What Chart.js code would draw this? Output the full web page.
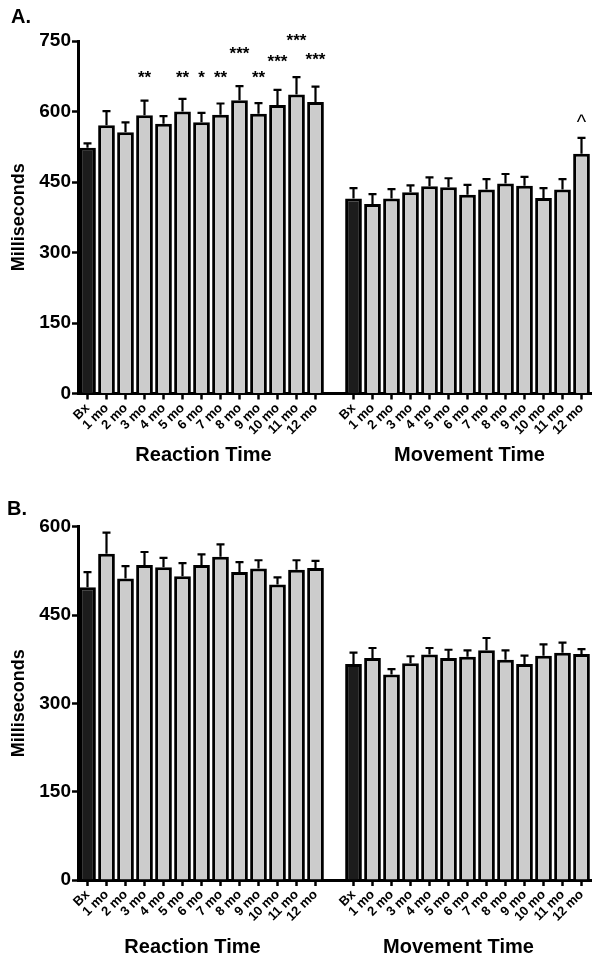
<!DOCTYPE html>
<html>
<head>
<meta charset="utf-8">
<script src="https://cdn.jsdelivr.net/npm/chart.js@4.4.0/dist/chart.umd.min.js"></script>
<style>
  html, body { margin: 0; padding: 0; background: #fff; }
  .panel { position: relative; width: 601px; height: 482px; }
  .panel canvas { display: block; }
  .letter {
    position: absolute;
    font: bold 20px 'Liberation Sans', Arial, sans-serif;
    line-height: 20px;
    color: #000;
  }
</style>
</head>
<body>
<div class="panel">
  <div class="letter" style="left:11px; top:6px;">A.</div>
  <canvas id="chartA" width="601" height="482"></canvas>
</div>
<div class="panel">
  <div class="letter" style="left:7px; top:16px;">B.</div>
  <canvas id="chartB" width="601" height="482"></canvas>
</div>
<script>
// categories
const timepoints = ['Bx', '1 mo', '2 mo', '3 mo', '4 mo', '5 mo', '6 mo', '7 mo', '8 mo', '9 mo', '10 mo', '11 mo', '12 mo'];
const groupNames = ['Reaction Time', 'Movement Time'];

// y tick labels
const yTicksA = [0, 150, 300, 450, 600, 750];
const yTicksB = [0, 150, 300, 450, 600];

// Panel A - means and SEM (ms)
const rtMeanA = [523, 571, 556, 592, 574, 600, 577, 593, 624, 595, 614, 636, 620];
const rtSemA  = [9, 30, 21, 31, 16, 27, 20, 24, 30, 23, 32, 37, 33];
const mtMeanA = [415, 403, 415, 428, 441, 439, 423, 434, 447, 442, 416, 434, 510];
const mtSemA  = [22, 21, 20, 15, 19, 19, 21, 22, 20, 19, 21, 22, 34];

// Panel A - significance marks and the value level they sit at
const rtMarksA     = ['', '', '', '**', '', '**', '*', '**', '***', '**', '***', '***', '***'];
const rtMarkLevelA = [null, null, null, 678, null, 678, 678, 678, 729, 678, 712, 757, 718];
const mtMarksA     = ['', '', '', '', '', '', '', '', '', '', '', '', '^'];
const mtMarkLevelA = [null, null, null, null, null, null, null, null, null, null, null, null, 586];

// Panel B - means and SEM (ms)
const rtMeanB = [497, 554, 512, 535, 531, 516, 535, 549, 523, 529, 502, 527, 530];
const rtSemB  = [26, 36, 21, 22, 16, 22, 18, 21, 17, 14, 12, 16, 12];
const mtMeanB = [367, 377, 349, 368, 383, 377, 379, 390, 374, 367, 381, 386, 384];
const mtSemB  = [19, 17, 9, 12, 11, 14, 11, 21, 16, 14, 19, 17, 8];

const FONT = "'Liberation Sans', Arial, Helvetica, sans-serif";
Chart.defaults.font.family = FONT;
Chart.defaults.color = '#000';

// error bars, star marks and group titles
const panelExtras = {
  id: 'panelExtras',
  afterDatasetsDraw(chart, args, opts) {
    const { ctx } = chart;
    const x = chart.scales.x;
    const y = chart.scales.y;
    const meta = chart.getDatasetMeta(0);
    const values = chart.data.datasets[0].data;

    ctx.save();
    ctx.strokeStyle = '#000';
    ctx.lineWidth = 2.2;
    meta.data.forEach((bar, i) => {
      const sem = opts.sem[i];
      if (values[i] == null || sem == null) return;
      const top = y.getPixelForValue(values[i] + sem);
      ctx.beginPath();
      ctx.moveTo(bar.x, bar.y);
      ctx.lineTo(bar.x, top);
      ctx.moveTo(bar.x - 4, top);
      ctx.lineTo(bar.x + 4, top);
      ctx.stroke();
    });

    // marks, centred on their value level
    ctx.fillStyle = '#000';
    ctx.textAlign = 'center';
    ctx.textBaseline = 'alphabetic';
    opts.marks.forEach((m, i) => {
      if (!m) return;
      ctx.font = m === '^' ? '20px ' + FONT : 'bold 17px ' + FONT;
      const tm = ctx.measureText(m);
      const cy = y.getPixelForValue(opts.markLevels[i]);
      const base = cy + (tm.actualBoundingBoxAscent - tm.actualBoundingBoxDescent) / 2;
      ctx.fillText(m, meta.data[i].x, base);
    });

    // group titles under each block of bars
    ctx.font = 'bold 20px ' + FONT;
    ctx.textBaseline = 'middle';
    opts.groups.forEach(g => {
      const cx = (x.getPixelForValue(g.first) + x.getPixelForValue(g.last)) / 2 + opts.titleShift;
      ctx.fillText(g.name, cx, opts.titleY);
    });
    ctx.restore();
  }
};

function makePanel(id, p) {
  const labels = [...timepoints, '', ...timepoints];
  const values = [...p.rtMean, null, ...p.mtMean];
  const sem = [...p.rtSem, null, ...p.mtSem];
  const marks = [...p.rtMarks, '', ...p.mtMarks];
  const markLevels = [...p.rtMarkLevel, null, ...p.mtMarkLevel];
  const colors = labels.map(l => (l === 'Bx' ? '#1c1c1c' : '#cccccc'));
  const n = timepoints.length;

  return new Chart(document.getElementById(id), {
    type: 'bar',
    data: {
      labels: labels,
      datasets: [{
        data: values,
        backgroundColor: colors,
        borderColor: '#000',
        borderWidth: 3,
        barPercentage: 0.88,
        categoryPercentage: 1
      }]
    },
    options: {
      responsive: false,
      animation: false,
      layout: { padding: { left: 0, right: 10, top: p.top, bottom: 0 } },
      plugins: {
        legend: { display: false },
        tooltip: { enabled: false },
        panelExtras: {
          sem: sem,
          marks: marks,
          markLevels: markLevels,
          titleY: p.titleY,
          titleShift: p.titleShift,
          groups: [
            { name: groupNames[0], first: 0, last: n - 1 },
            { name: groupNames[1], first: n + 1, last: 2 * n }
          ]
        }
      },
      scales: {
        x: {
          offset: true,
          grid: {
            offset: false,
            drawOnChartArea: false,
            tickLength: 6,
            tickWidth: 2.5,
            tickColor: c => (c.tick && c.tick.label === '' ? 'rgba(0,0,0,0)' : '#000')
          },
          border: { color: '#000', width: 3 },
          ticks: {
            autoSkip: false,
            minRotation: 45,
            maxRotation: 45,
            padding: 1,
            color: '#000',
            font: { size: 13, weight: 'bold' }
          },
          afterFit: s => { s.height = p.xHeight; }
        },
        y: {
          min: 0,
          max: p.max,
          grid: { drawOnChartArea: false, tickLength: 6, tickWidth: 2.5, tickColor: '#000' },
          border: { color: '#000', width: 3 },
          ticks: {
            padding: 1,
            color: '#000',
            font: { size: 19, weight: 'bold' }
          },
          afterBuildTicks: s => { s.ticks = p.yTicks.map(v => ({ value: v })); },
          title: {
            display: true,
            text: 'Milliseconds',
            color: '#000',
            font: { size: 18, weight: 'bold' },
            padding: { top: 8, bottom: 0 }
          },
          afterFit: s => { s.width = 78; }
        }
      }
    },
    plugins: [panelExtras]
  });
}

makePanel('chartA', {
  rtMean: rtMeanA, rtSem: rtSemA, mtMean: mtMeanA, mtSem: mtSemA,
  rtMarks: rtMarksA, rtMarkLevel: rtMarkLevelA, mtMarks: mtMarksA, mtMarkLevel: mtMarkLevelA,
  yTicks: yTicksA, max: 750, top: 41, xHeight: 88.5, titleY: 455, titleShift: 2
});

makePanel('chartB', {
  rtMean: rtMeanB, rtSem: rtSemB, mtMean: mtMeanB, mtSem: mtSemB,
  rtMarks: timepoints.map(() => ''), rtMarkLevel: timepoints.map(() => null),
  mtMarks: timepoints.map(() => ''), mtMarkLevel: timepoints.map(() => null),
  yTicks: yTicksB, max: 600, top: 44.7, xHeight: 84, titleY: 465, titleShift: -9
});
</script>
</body>
</html>
